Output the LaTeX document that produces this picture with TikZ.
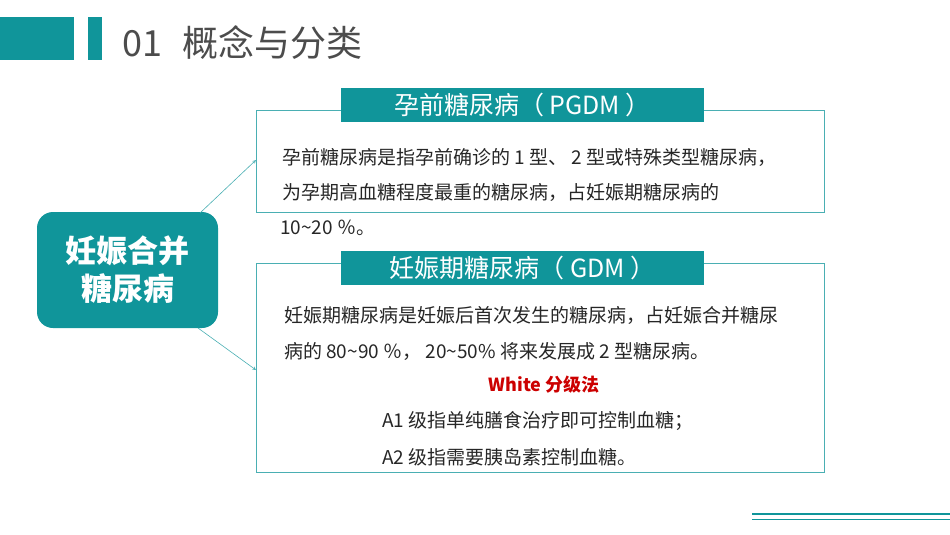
\documentclass[tikz,border=0pt]{standalone}
\usepackage{fontspec}
\setmainfont{Noto Sans CJK SC}
\definecolor{teal1}{HTML}{10959A}
\definecolor{line1}{HTML}{4AAFB3}
\begin{document}
\begin{tikzpicture}[x=1pt,y=-1pt,
  box/.style={draw=line1,line width=0.8pt},
  banner/.style={fill=teal1,text=white,minimum width=363pt,minimum height=34pt,inner sep=0pt,font=\fontsize{25}{28}\selectfont},
  body/.style={anchor=west,inner sep=0pt,font=\fontsize{19}{22}\selectfont,text=black!85},
  arr/.style={draw=line1,line width=0.6pt,-stealth}]
\useasboundingbox (0,0) rectangle (950,535);
\fill[teal1] (0,17) rectangle (74,60);
\fill[teal1] (88,17) rectangle (102,60);
\node[anchor=west,inner sep=0pt,text=black!70,font=\fontsize{36}{40}\selectfont] (title) at (122,43) {01\,\, 概念与分类};
\node[fill=teal1,rounded corners=16pt,minimum width=181pt,minimum height=116pt,text=white,align=center,font=\bfseries\fontsize{31}{38}\selectfont] (main) at (127.5,270) {妊娠合并\\糖尿病};
\draw[box] (256,110) rectangle (824,212);
\coordinate (b1) at (256,160);
\node[banner] (t1) at (522.5,105) {孕前糖尿病（ PGDM ）};
\node[body] (p1) at (282,157) {孕前糖尿病是指孕前确诊的 1 型、 2 型或特殊类型糖尿病，};
\node[body] (p2) at (282,192) {为孕期高血糖程度最重的糖尿病，占妊娠期糖尿病的};
\node[body] (p3) at (280,228) {10\textasciitilde 20 ％。};
\draw[box] (256,263) rectangle (824,472);
\coordinate (b2) at (256,370);
\node[banner] (t2) at (522.5,268) {妊娠期糖尿病（ GDM ）};
\node[body] (q1) at (284,315) {妊娠期糖尿病是妊娠后首次发生的糖尿病，占妊娠合并糖尿};
\node[body] (q2) at (284,351) {病的 80\textasciitilde 90 ％， 20\textasciitilde 50\% 将来发展成 2 型糖尿病。};
\node[text=red!80!black,inner sep=0pt,font=\bfseries\fontsize{18}{20}\selectfont] (w) at (544,385) {White 分级法};
\node[body] (q3) at (382,421) {A1 级指单纯膳食治疗即可控制血糖；};
\node[body] (q4) at (382,457) {A2 级指需要胰岛素控制血糖。};
\draw[arr] (200,213) -- (b1);
\draw[arr] (198,328) -- (b2);
\draw[teal1,line width=1.8pt] (752,514) -- (950,514);
\draw[teal1,line width=1pt] (752,519) -- (950,519);
\end{tikzpicture}
\end{document}
